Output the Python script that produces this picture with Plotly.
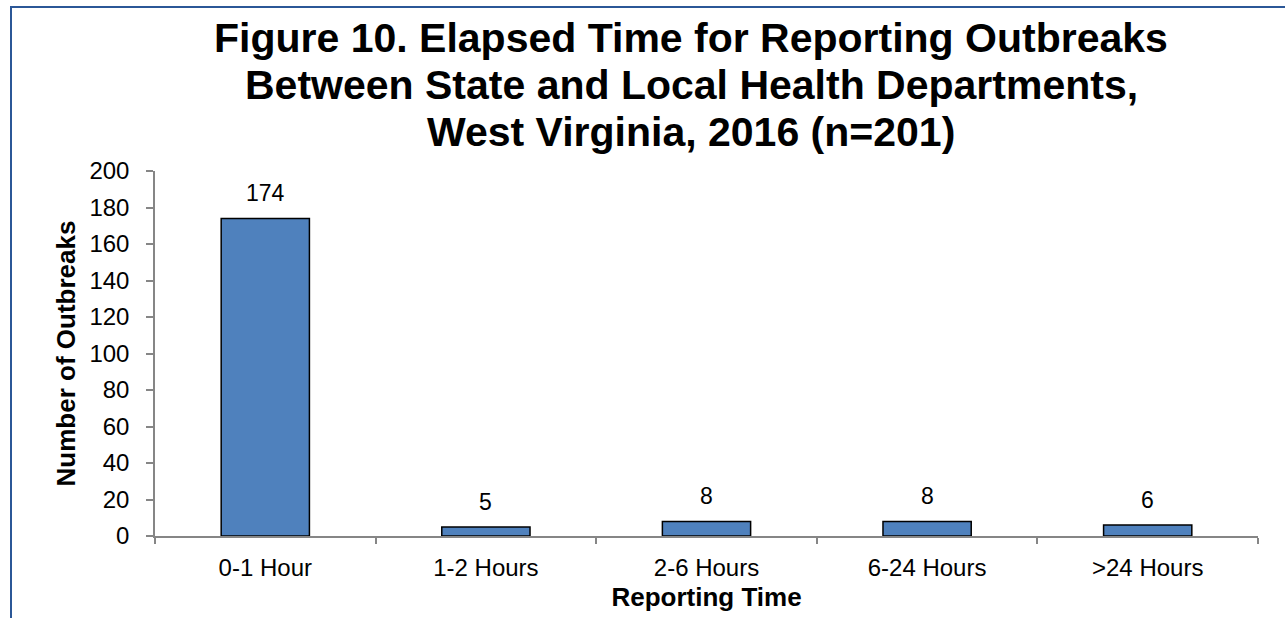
"""Figure 10 — elapsed time for reporting outbreaks, West Virginia 2016."""

import plotly.graph_objects as go

categories = ["0-1 Hour", "1-2 Hours", "2-6 Hours", "6-24 Hours", ">24 Hours"]
outbreaks = [174, 5, 8, 8, 6]

title_lines = [
    "Figure 10. Elapsed Time for Reporting Outbreaks",
    "Between State and Local Health Departments,",
    "West Virginia, 2016 (n=201)",
]

BAR_COLOR = "#4F81BD"
AXIS_COLOR = "#868686"
BORDER_COLOR = "#2B5797"
FONT = "Liberation Sans, Arial, sans-serif"

WIDTH, HEIGHT = 1285, 618
PLOT_TOP, PLOT_BOTTOM = 171, 536
PLOT_LEFT, PLOT_RIGHT = 155, 1258


def paper_y(py):
    return (PLOT_BOTTOM - py) / (PLOT_BOTTOM - PLOT_TOP)


def paper_x(px):
    return (px - PLOT_LEFT) / (PLOT_RIGHT - PLOT_LEFT)


fig = go.Figure()

fig.add_trace(
    go.Bar(
        x=categories,
        y=outbreaks,
        marker=dict(color=BAR_COLOR, line=dict(color="black", width=1.5)),
        hoverinfo="x+y",
    )
)

# value labels above each bar
for cat, val in zip(categories, outbreaks):
    fig.add_annotation(
        x=cat,
        y=val,
        text=str(val),
        showarrow=False,
        yanchor="bottom",
        yshift=10,
        font=dict(family=FONT, size=23, color="black"),
    )

# title, one line per annotation for tighter line spacing
for i, line in enumerate(title_lines):
    fig.add_annotation(
        xref="paper",
        yref="paper",
        x=paper_x(691),
        y=paper_y(38 + 47 * i),
        xanchor="center",
        yanchor="middle",
        text=f"<b>{line}</b>",
        showarrow=False,
        font=dict(family=FONT, size=41, color="black"),
    )

# frame line on the left and top edge of the picture
fig.add_shape(
    type="rect",
    xref="paper",
    yref="paper",
    x0=paper_x(11),
    x1=paper_x(1400),
    y0=paper_y(700),
    y1=paper_y(7),
    line=dict(color=BORDER_COLOR, width=2),
    layer="below",
)

fig.update_layout(
    width=WIDTH,
    height=HEIGHT,
    paper_bgcolor="white",
    plot_bgcolor="white",
    showlegend=False,
    bargap=0.6,
    margin=dict(l=PLOT_LEFT, r=WIDTH - PLOT_RIGHT, t=PLOT_TOP, b=HEIGHT - PLOT_BOTTOM),
    font=dict(family=FONT, color="black"),
    xaxis=dict(
        type="category",
        tickson="boundaries",
        ticks="outside",
        ticklen=6,
        tickcolor=AXIS_COLOR,
        tickwidth=1.5,
        showline=True,
        linecolor=AXIS_COLOR,
        linewidth=1.5,
        showgrid=False,
        ticklabelstandoff=9,
        tickfont=dict(family=FONT, size=24, color="black"),
        title=dict(
            text="<b>Reporting Time</b>",
            font=dict(family=FONT, size=26, color="black"),
            standoff=8,
        ),
    ),
    yaxis=dict(
        range=[0, 200],
        dtick=20,
        ticks="outside",
        ticklen=7,
        tickcolor=AXIS_COLOR,
        tickwidth=1.5,
        showline=True,
        linecolor=AXIS_COLOR,
        linewidth=1.5,
        showgrid=False,
        zeroline=False,
        ticklabelstandoff=12,
        tickfont=dict(family=FONT, size=24, color="black"),
        title=dict(
            text="<b>Number of Outbreaks</b>",
            font=dict(family=FONT, size=26, color="black"),
            standoff=6,
        ),
    ),
)

# drop the browser's default body margin so the figure sits at the page corner
fig.write_html(
    "out.html",
    config={"displayModeBar": False},
    post_script="document.body.style.margin = '0';",
)
